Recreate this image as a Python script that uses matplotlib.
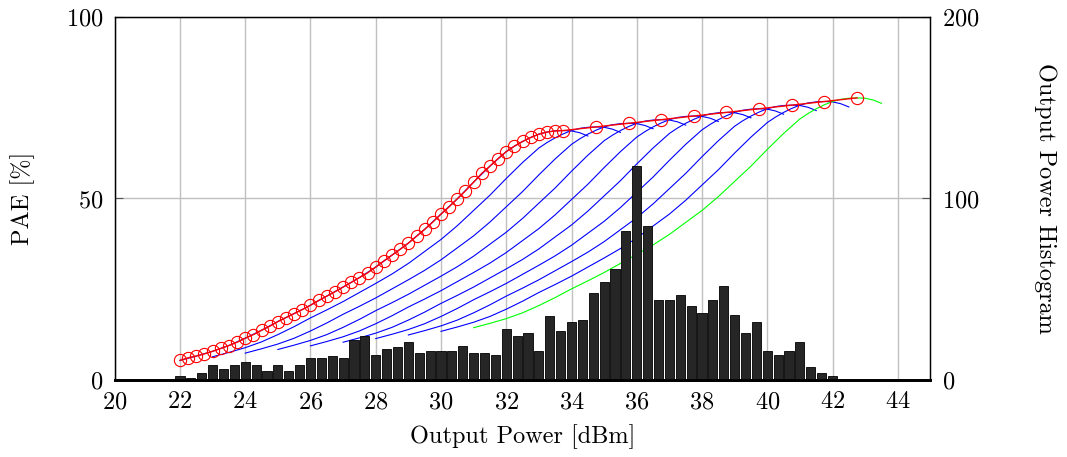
import matplotlib

matplotlib.use("Agg")
import matplotlib.pyplot as plt
import numpy as np

plt.rcParams["font.family"] = "serif"
plt.rcParams["font.serif"] = ["cmr10"]
plt.rcParams["mathtext.fontset"] = "cm"
plt.rcParams["axes.formatter.use_mathtext"] = True

# histogram of output power, 1/3 dBm bins between 22 and 42 dBm
hist_centers = np.linspace(22, 42, 61)
hist_counts = [2, 1, 4, 8, 6, 8, 10, 8, 5, 8, 5, 8, 12, 12, 13, 12,
               22, 24, 14, 17, 18, 21, 15, 16, 16, 16, 19, 15, 15, 14,
               28, 24, 26, 16, 35, 27, 32, 33, 48, 54, 61, 82, 118, 85,
               44, 44, 47, 41, 37, 44, 52, 36, 26, 32, 16, 14, 16, 21,
               7, 4, 2]

# PAE sweeps, one per supply setting; each starts at its own output power
sweep_starts = [22, 23, 24, 25, 26, 27, 28, 29, 30]
sweep_offsets = np.concatenate([np.arange(0, 10.01, 0.5),
                                np.arange(10.25, 12.51, 0.25)])
pae_sweeps = [
    [5.4, 6.6, 7.9, 9.5, 11.5, 13.7, 16.1, 18.3, 20.6, 23.1, 25.6, 28.2, 31.1,
     34.4, 37.7, 41.5, 45.7, 49.9, 54.5, 58.9, 62.9, 64.4, 65.7, 66.8, 67.7,
     68.3, 68.6, 68.7, 68.6, 68.1, 67.2],
    [6.4, 7.6, 8.9, 10.5, 12.5, 14.7, 17.1, 19.3, 21.6, 24.1, 26.6, 29.2, 32.1,
     35.4, 38.7, 42.5, 46.7, 50.9, 55.5, 59.9, 63.9, 65.4, 66.7, 67.8, 68.7,
     69.3, 69.6, 69.7, 69.6, 69.1, 68.2],
    [7.4, 8.6, 9.9, 11.5, 13.5, 15.7, 18.1, 20.3, 22.6, 25.1, 27.6, 30.2, 33.1,
     36.4, 39.7, 43.5, 47.7, 51.9, 56.5, 60.9, 64.9, 66.4, 67.7, 68.8, 69.7,
     70.3, 70.6, 70.7, 70.6, 70.1, 69.2],
    [8.4, 9.6, 10.9, 12.5, 14.5, 16.7, 19.1, 21.3, 23.6, 26.1, 28.6, 31.2, 34.1,
     37.4, 40.7, 44.5, 48.7, 52.9, 57.5, 61.9, 65.9, 67.4, 68.7, 69.8, 70.7,
     71.3, 71.6, 71.7, 71.6, 71.1, 70.2],
    [9.4, 10.6, 11.9, 13.5, 15.5, 17.7, 20.1, 22.3, 24.6, 27.1, 29.6, 32.2, 35.1,
     38.4, 41.7, 45.5, 49.7, 53.9, 58.5, 62.9, 66.9, 68.4, 69.7, 70.8, 71.7,
     72.3, 72.6, 72.7, 72.6, 72.1, 71.2],
    [10.4, 11.6, 12.9, 14.5, 16.5, 18.7, 21.1, 23.3, 25.6, 28.1, 30.6, 33.2, 36.1,
     39.4, 42.7, 46.5, 50.7, 54.9, 59.5, 63.9, 67.9, 69.4, 70.7, 71.8, 72.7,
     73.3, 73.6, 73.7, 73.6, 73.1, 72.2],
    [11.4, 12.6, 13.9, 15.5, 17.5, 19.7, 22.1, 24.3, 26.6, 29.1, 31.6, 34.2, 37.1,
     40.4, 43.7, 47.5, 51.7, 55.9, 60.5, 64.9, 68.9, 70.4, 71.7, 72.8, 73.7,
     74.3, 74.6, 74.7, 74.6, 74.1, 73.2],
    [12.4, 13.6, 14.9, 16.5, 18.5, 20.7, 23.1, 25.3, 27.6, 30.1, 32.6, 35.2, 38.1,
     41.4, 44.7, 48.5, 52.7, 56.9, 61.5, 65.9, 69.9, 71.4, 72.7, 73.8, 74.7,
     75.3, 75.6, 75.7, 75.6, 75.1, 74.2],
    [13.4, 14.6, 15.9, 17.5, 19.5, 21.7, 24.1, 26.3, 28.6, 31.1, 33.6, 36.2, 39.1,
     42.4, 45.7, 49.5, 53.7, 57.9, 62.5, 66.9, 70.9, 72.4, 73.7, 74.8, 75.7,
     76.3, 76.6, 76.7, 76.6, 76.1, 75.2],
]
green_start = 31
pae_green = [14.4, 15.6, 16.9, 18.5, 20.5, 22.7, 25.1, 27.3, 29.6, 32.1, 34.6,
             37.2, 40.1, 43.4, 46.7, 50.5, 54.7, 58.9, 63.5, 67.9, 71.9, 73.4,
             74.7, 75.8, 76.7, 77.3, 77.6, 77.7, 77.6, 77.1, 76.2]

# envelope (max PAE) with markers
env_pout = np.concatenate([np.arange(22, 33.8, 0.25), np.arange(34.75, 42.8, 1.0)])
env_pae = [5.4, 6.1, 6.6, 7.2, 7.9, 8.7, 9.5, 10.4, 11.5, 12.5, 13.7, 14.8,
           16.1, 17.2, 18.3, 19.4, 20.6, 21.9, 23.1, 24.3, 25.6, 26.9, 28.2,
           29.5, 31.1, 32.8, 34.4, 36.0, 37.7, 39.6, 41.5, 43.5, 45.7, 47.7,
           49.9, 52.1, 54.5, 56.9, 58.9, 61.0, 62.9, 64.4, 65.7, 66.8, 67.7,
           68.3, 68.6, 68.7, 69.7, 70.7, 71.7, 72.7, 73.7, 74.7, 75.7, 76.7,
           77.7]

x_ticks = list(range(20, 45, 2))
pae_ticks = [0, 50, 100]
hist_ticks = [0, 100, 200]

fs = 17.5
fig = plt.figure(figsize=(10.67, 4.57), dpi=100)
ax = fig.add_axes([0.1075, 0.1685, 0.7645, 0.7945])

for start, pae in zip(sweep_starts, pae_sweeps):
    ax.plot(start + sweep_offsets, pae, color="#0000ff", lw=0.8, zorder=2)
ax.plot(green_start + sweep_offsets, pae_green, color="#00ff00", lw=0.8, zorder=2)
ax.plot(env_pout, env_pae, color="#ff0000", lw=1.0, marker="o", ms=8.8,
        mfc="none", mec="#ff0000", mew=0.8, zorder=3)

ax.set_xlim(20, 45)
ax.set_ylim(0, 100)
ax.set_xticks(x_ticks)
ax.set_yticks(pae_ticks)
ax.grid(True, color="#c0c0c0", lw=1.0)
ax.set_axisbelow(True)
ax.tick_params(axis="both", direction="in", length=6, width=0.8,
               labelsize=fs, color="#555555")
ax.tick_params(axis="x", length=0, pad=8)
ax.tick_params(axis="y", pad=8)
ax.set_xlabel("Output Power [dBm]", fontsize=fs, labelpad=8)
ax.set_ylabel("PAE [%]", fontsize=fs, labelpad=22)

ax2 = ax.twinx()
ax2.bar(hist_centers, hist_counts, width=0.28, color="#262626",
        edgecolor="#000000", lw=0.6, zorder=2)
ax2.set_ylim(0, 200)
ax2.set_yticks(hist_ticks)
ax2.tick_params(axis="y", direction="in", length=6, width=0.8,
                labelsize=fs, pad=8, color="#555555")
ax2.set_ylabel("Output Power Histogram", fontsize=fs, rotation=270, labelpad=56)

for a in (ax, ax2):
    for side in ("left", "right", "top"):
        a.spines[side].set_linewidth(0.9)
    a.spines["bottom"].set_linewidth(2.0)

fig.savefig("out.png", dpi=100)
